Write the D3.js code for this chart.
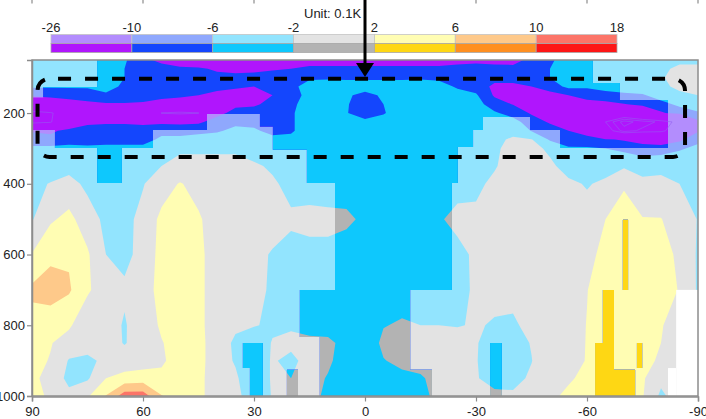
<!DOCTYPE html>
<html>
<head>
<meta charset="utf-8">
<script src="https://cdn.jsdelivr.net/npm/d3@7/dist/d3.min.js"></script>
<style>
  body { margin: 0; background: #fff; }
  svg { display: block; font-family: "Liberation Sans", Arial, Helvetica, sans-serif; }
</style>
</head>
<body>
<div id="graph_box"></div>
<script>
// latitude (deg) and pressure (hPa) of the data grid
const lats = [90, 85, 80, 75, 70, 65, 60, 55, 50, 45, 40, 35, 30, 25, 20, 15, 10, 5, 0,
  -5, -10, -15, -20, -25, -30, -35, -40, -45, -50, -55, -60, -65, -70, -75, -80, -85, -90];
const levels = [50, 75, 100, 125, 150, 175, 200, 225, 250, 275, 300, 350, 400, 500, 600, 700, 800, 850, 900, 950, 1000];

// temperature anomaly (0.1K), one profile per latitude, top (50 hPa) to bottom (1000 hPa)
const profiles = [
  [-4, -4, -4, -5.5, -9.5, -14, -34, -33, -10.3, -8.5, -5, -4, -3, -2.3, 2.2, 6.8, 4.5, 3.5, 3, 3, 3],        // 90
  [-4, -4, -4, -5.5, -9, -13, -31, -31, -11, -8.5, -5, -4, -1.8, 1.5, 5, 8, 3.5, 2.2, 1.8, 0.5, 1.5],         // 85
  [-4, -4, -4, -5.5, -8.5, -12, -24, -16, -8.5, -8, -4.5, -3.5, -0.5, 3, 5.5, 6.5, 2.5, 0.5, -2.3, -3, -1],   // 80
  [-4, -4, -4, -5.5, -8, -11, -15, -10.8, -8.5, -8, -5, -3.5, -3, 0, 2.5, 2.5, -0.5, -1, -2.5, -2.5, 1.5],    // 75
  [-4.5, -4.5, -4.5, -5, -6.5, -10.5, -13, -10.5, -8.5, -8, -4.5, -4.5, -4, -3, -2, 0, -0.5, -0.5, -1.5, 2, 6.2], // 70
  [-5.5, -6, -6, -6.5, -7, -10.5, -12.5, -10.5, -8.5, -8, -4.5, -4, -3.5, -3, -2.8, -1.5, -2.3, -2.2, -0.5, 3.5, 12], // 65
  [-9, -8, -8, -8, -8.5, -10.5, -12.5, -10.8, -8.5, -8, -4.5, -3.5, -2.2, -1, -1, 0, 0, -0.5, 0, 4, 12],      // 60
  [-11, -8.5, -8.5, -8.5, -9, -11.5, -30.5, -10.8, -7.5, -5, -3.5, -2, 0, 3, 3.5, 3.5, 2.5, 1.8, 1.5, 2.8, 6.2], // 55
  [-13, -9, -9, -9, -9.5, -11.5, -32, -11, -7.5, -5, -2.5, -1, 2.3, 4, 4.5, 4.5, 4, 3.5, 3.5, 3.5, 4],        // 50
  [-13, -9.5, -9, -9, -10, -12, -30.5, -10.8, -7, -4.5, -2.5, -1, 0.5, 2.5, 3, 3, 3, 3.5, 3.5, 3, 3],         // 45
  [-13, -10.5, -9, -9, -11, -13, -11.5, -8, -6.5, -4, -2.5, -1, 0, 0, 0, 0, 0, -0.5, -0.5, 0, 0],             // 40
  [-13, -11, -9, -9.5, -11.5, -11, -8.5, -7, -5, -3, -2.5, -1, 0, 0, 0, -0.5, -1.5, -2.5, -2.3, -1.5, -1],    // 35
  [-13, -11, -8.5, -10, -11.5, -10.5, -8.5, -7, -5.5, -3.5, -3.5, -1.5, -0.5, -0.5, -1, -1, -1.8, -4, -4.5, -4.5, -4], // 30
  [-12.5, -10.5, -8, -9, -10, -9, -8, -7.5, -7, -5, -3.5, -2.5, -1.5, -0.5, -2.3, -2.5, -2.5, -1.8, -1.6, -1.6, -1.8], // 25
  [-11.5, -10, -7.5, -7, -8, -7, -6.5, -6.5, -6.5, -5, -4.5, -3.5, -3, -1.5, -3, -3.5, -2.5, -1, -3, -2, -1], // 20
  [-11, -9.5, -6.5, -4.5, -4.5, -4, -4, -4, -4, -4.5, -4.5, -4, -3.5, -1, -3, -3.5, -3.5, -1, -0.5, -0.5, -0.5], // 15
  [-11, -9.5, -6.5, -4, -4, -4, -4, -4, -4, -4, -4, -4, -4, -1, -3, -4, -4, -1, -1.3, -2.3, -3],             // 10
  [-11, -9.5, -6.5, -4.5, -5.5, -5.6, -5.8, -4.5, -4.5, -4.5, -4.5, -4.5, -4.5, -1, -4.5, -4.5, -4.5, -3.5, -4, -4.5, -4.5], // 5
  [-11, -9.5, -6.5, -4.5, -7, -8.5, -8, -5, -4.5, -4.5, -4.5, -5, -5, -3, -5, -5, -5, -5, -5, -5, -5],        // 0
  [-11, -9.5, -6.5, -4.5, -5.5, -6, -6.3, -4.5, -4.5, -4.5, -4.5, -5, -5, -5, -5, -5, -2.2, -1, -2.2, -4.5, -5], // -5
  [-11, -9.5, -6.5, -4.5, -4, -4, -4, -4, -4, -4, -4.5, -5, -5, -4.5, -5, -4, -1.5, -0.5, -1, -3, -4],        // -10
  [-11, -9.5, -6.5, -4, -4, -4, -4, -4, -4, -4, -4.5, -4.5, -4.5, -3.5, -4.5, -3.5, -2, -0.5, -0.5, -2.5, -3], // -15
  [-11, -9.5, -6.8, -4.5, -4, -4, -4, -4, -4, -4, -4, -4.5, -4.5, -2.3, -4, -3, -2, -0.5, 0, -0.5, -1],       // -20
  [-11, -9, -7.5, -6.5, -4.5, -4, -4, -4, -4, -4, -4, -3.5, -3, -1.2, -2.8, -3, -2.2, -0.5, 0, 0, 0],         // -25
  [-11, -8.5, -8, -7.5, -5.5, -4.5, -4, -4, -4, -4, -3.5, -3, -2.5, -1.5, -1.5, -1.5, -1.7, -1.7, -1.8, -1.7, -1.5], // -30
  [-12, -8, -8.5, -11, -10.5, -8, -5.5, -3.5, -3, -2.8, -2.5, -2.2, -1.5, -1, -1, -1, -2.3, -4, -4, -3.5, -1], // -35
  [-12.5, -8, -8.5, -11, -12.5, -10.2, -7.5, -4.5, -3, -1.5, -1, -1, -1, -1, -1, -1, -2.5, -3.5, -3.5, -3, -1.5], // -40
  [-8, -7.5, -8, -10, -13, -13, -10.5, -8, -6.2, -1.8, -1.2, -1, -1, -0.5, -0.5, -0.5, -1, -1.8, -2.1, -1.5, -0.5], // -45
  [-6.5, -6, -6, -8, -11.5, -15, -15, -10.5, -8, -6.5, -2.5, -1.5, -1, -1, -0.5, -0.5, 0, 0.5, 0.5, 0.8, 1.2], // -50
  [-4.5, -4.5, -4.5, -5, -10, -15, -17, -14, -10, -8, -5.5, -3, -1.5, -0.5, 0, 0.5, 0.5, 1, 1.3, 1.5, 2.8],   // -55
  [-4, -4, -4.5, -5.5, -8, -12, -20, -18, -12, -8.5, -5.5, -3, -2.2, -1, 0.5, 1.9, 2.1, 2.1, 2.1, 3, 3.5],    // -60
  [-3.5, -3, -3, -4, -8, -11, -22, -30, -26, -9.5, -6, -3, -1.5, 2, 3.5, 4, 4, 4.5, 4.5, 4.5, 4.5],          // -65
  [-3, -3, -3, -3.5, -7, -10.2, -20, -40, -36, -10.5, -7, -2.5, 1.5, 4, 4.5, 4.5, 4.5, 4.5, 4.5, 4.5, 4],     // -70
  [-2.8, -2.8, -2.8, -3, -6.5, -9, -15, -36, -33, -12, -8, -3.5, -1, 2.2, 3.5, 3.5, 3, 3, 3, 2.5, 2.3],       // -75
  [-2.5, -2.5, -2.2, -2.5, -4, -7.5, -10.5, -33, -32, -14, -7.5, -3.5, -0.5, 2.1, 3, 2.8, 2.3, 2, 1.5, -1, -2.8], // -80
  [-2.5, -1.5, -1.2, -1.5, -2.5, -5, -8.5, -28, -24, -11, -6.5, -2.5, -2, 0.5, 1.5, 1.9, 0, 0, 0, 0, 0],     // -85
  [-2.5, -1.5, -1.5, -1.5, -2, -3.5, -6.5, -11, -10.5, -7, -5, -3, -2.5, -2.2, -2.5, -2.5, -2.5, -2.5, -2.5, -2.5, -2.5] // -90
];

// significant areas [lat from, lat to, p top, p bottom] drawn with the strong colours
const sigBoxes = [
  [90, 87, 156, 248], [87, 83.8, 126, 248], [83.8, 72.4, 126, 299], [72.4, 57.3, 50, 299],
  [57.3, 42.7, 50, 248], [42.7, 28.4, 50, 203], [28.4, 24.9, 50, 239], [24.9, 15.7, 50, 304],
  [15.7, -25.1, 50, 398], [-25.1, -29.2, 50, 296], [-29.2, -31.9, 50, 248], [-31.9, -44.6, 50, 211],
  [-44.6, -52.7, 50, 248], [-52.7, -61.6, 50, 299], [-61.6, -68.9, 115, 299], [-68.9, -81.9, 163, 299],
  [72.4, 65.7, 299, 398], [8.1, -23.5, 398, 700], [17.6, -12.2, 700, 833], [12.2, -12.2, 833, 1000],
  [-12.2, -18.1, 926, 1000], [33, 27.6, 850, 921], [31.1, 27.6, 921, 1000], [21.1, 18.1, 926, 1000],
  [-33.8, -37, 850, 1000], [-64.3, -67.3, 700, 850], [-62.2, -67.3, 850, 1000], [-67.3, -73, 926, 1000],
  [-73.5, -74.9, 850, 921], [-69.7, -71.1, 502, 700]
];
// no data (below ground)
const missingBoxes = [[-84.1, -90, 700, 1000], [-81.9, -84.1, 921, 1000]];

const classBreaks = [-10, -6, -2, 2, 6, 10];
const barLabels = ["-26", "-10", "-6", "-2", "2", "6", "10", "18"];
const lightColors = ["#b38dfd", "#8fa8fd", "#92e4fe", "#e3e3e3", "#fffdb3", "#fec98a", "#fc7468"];
const darkColors = ["#b015fd", "#1446fd", "#0ec8fd", "#b3b3b3", "#fed714", "#fe8f20", "#fd1616"];
const lineLevels = [-30, -34, -38];
const latTicks = [90, 60, 30, 0, -30, -60, -90];
const presTicks = [200, 400, 600, 800, 1000];

const W = 706, H = 419;
const x = d3.scaleLinear().domain([90, -90]).range([32, 698]);
const y = d3.scaleLinear().domain([50, 1000]).range([60, 396]);

const svg = d3.select("#graph_box").append("svg")
  .attr("width", W).attr("height", H);

const nx = lats.length, ny = levels.length;
const grid = new Array(nx * ny);
for (let j = 0; j < ny; j++) {
  for (let i = 0; i < nx; i++) grid[j * nx + i] = profiles[i][j];
}

// contour grid coords -> pixels
function toPx(pt) {
  const ci = Math.max(0, Math.min(nx - 1, pt[0] - 0.5));
  const rj = Math.max(0, Math.min(ny - 1, pt[1] - 0.5));
  const i0 = Math.min(nx - 2, Math.floor(ci)), j0 = Math.min(ny - 2, Math.floor(rj));
  const lat = lats[i0] + (ci - i0) * (lats[i0 + 1] - lats[i0]);
  const p = levels[j0] + (rj - j0) * (levels[j0 + 1] - levels[j0]);
  return [x(lat), y(p)];
}
function project(g) {
  return { type: g.type, value: g.value, coordinates: g.coordinates.map(poly => poly.map(ring => ring.map(toPx))) };
}
const path = d3.geoPath();

const bands = d3.contours().size([nx, ny])
  .thresholds([-1000].concat(classBreaks))(grid).map(project);

// clip for significant areas
const defs = svg.append("defs");
defs.append("clipPath").attr("id", "sig")
  .selectAll("rect").data(sigBoxes).join("rect")
  .attr("x", d => x(d[0])).attr("width", d => x(d[1]) - x(d[0]))
  .attr("y", d => y(d[2])).attr("height", d => y(d[3]) - y(d[2]));
defs.append("clipPath").attr("id", "plot")
  .append("rect").attr("x", x(90)).attr("y", y(50))
  .attr("width", x(-90) - x(90)).attr("height", y(1000) - y(50));

const plot = svg.append("g").attr("clip-path", "url(#plot)");

plot.append("g").selectAll("path").data(bands).join("path")
  .attr("d", path).attr("fill", (d, i) => lightColors[i]);

plot.append("g").attr("clip-path", "url(#sig)")
  .selectAll("path").data(bands).join("path")
  .attr("d", path).attr("fill", (d, i) => darkColors[i]);

// thin lines for the deepest cold cores
const cores = d3.contours().size([nx, ny])
  .thresholds(lineLevels.map(v => -v))(grid.map(v => -v)).map(project);
plot.append("g").selectAll("path").data(cores).join("path")
  .attr("d", path).attr("fill", "none")
  .attr("stroke", "#9460ee").attr("stroke-width", 0.8).attr("opacity", 0.7);

plot.append("g").selectAll("rect").data(missingBoxes).join("rect")
  .attr("x", d => x(d[0])).attr("width", d => x(d[1]) - x(d[0]))
  .attr("y", d => y(d[2])).attr("height", d => y(d[3]) - y(d[2]))
  .attr("fill", "#fff");

// frame
svg.append("rect")
  .attr("x", x(90)).attr("y", y(50))
  .attr("width", x(-90) - x(90)).attr("height", y(1000) - y(50))
  .attr("fill", "none").attr("stroke", "#8c8c8c").attr("stroke-width", 1.5);

// axes
const yAxis = svg.append("g")
  .attr("transform", `translate(${x(90)},0)`)
  .call(d3.axisLeft(y).tickValues(presTicks).tickSize(5).tickPadding(2).tickFormat(d => String(d)));
const xAxis = svg.append("g")
  .attr("transform", `translate(0,${y(1000) + 0.5})`)
  .call(d3.axisBottom(x).tickValues(latTicks).tickSize(5).tickPadding(5).tickFormat(d => String(d)));
[yAxis, xAxis].forEach(a => {
  a.select(".domain").attr("stroke", "#8c8c8c").attr("stroke-width", 1.5);
  a.selectAll(".tick line").attr("stroke", "#8c8c8c").attr("stroke-width", 1.2);
  a.selectAll("text").attr("font-size", 13).attr("fill", "#222")
    .attr("font-family", "'Liberation Sans', Arial, sans-serif");
});

// ticks of the panel above
svg.append("g").selectAll("line").data(latTicks).join("line")
  .attr("x1", d => x(d)).attr("x2", d => x(d)).attr("y1", 0).attr("y2", 3.5)
  .attr("stroke", "#8c8c8c").attr("stroke-width", 1.2);

// colour bar
const barX = d3.scaleLinear().domain([0, lightColors.length]).range([51, 617]);
const bar = svg.append("g");
bar.selectAll("rect.lt").data(lightColors).join("rect").attr("class", "lt")
  .attr("x", (d, i) => barX(i)).attr("width", barX(1) - barX(0))
  .attr("y", 34.5).attr("height", 9).attr("fill", d => d)
  .attr("stroke", "#c4c4c4").attr("stroke-width", 0.8);
bar.selectAll("rect.dk").data(darkColors).join("rect").attr("class", "dk")
  .attr("x", (d, i) => barX(i)).attr("width", barX(1) - barX(0))
  .attr("y", 43.5).attr("height", 9).attr("fill", d => d)
  .attr("stroke", "#a8a8a8").attr("stroke-width", 0.8);
bar.selectAll("text").data(barLabels).join("text")
  .attr("x", (d, i) => barX(i)).attr("y", 32)
  .attr("text-anchor", "middle").attr("font-size", 13).attr("fill", "#222")
  .text(d => d);
svg.append("text").attr("x", 304).attr("y", 18)
  .attr("font-size", 13).attr("fill", "#222").text("Unit: 0.1K");

// highlighted layer
svg.append("rect")
  .attr("x", x(88.5)).attr("y", y(103))
  .attr("width", x(-86.5) - x(88.5)).attr("height", y(324) - y(103))
  .attr("rx", 12).attr("ry", 12)
  .attr("fill", "none").attr("stroke", "#000").attr("stroke-width", 4)
  .attr("stroke-dasharray", "13 14").attr("stroke-dashoffset", 18.5);

// arrow at the equator
svg.append("line")
  .attr("x1", x(0)).attr("x2", x(0)).attr("y1", 0).attr("y2", 66)
  .attr("stroke", "#000").attr("stroke-width", 3);
svg.append("path")
  .attr("d", `M${x(0) - 9},63 L${x(0) + 9},63 L${x(0)},77 Z`)
  .attr("fill", "#000");
</script>
</body>
</html>
